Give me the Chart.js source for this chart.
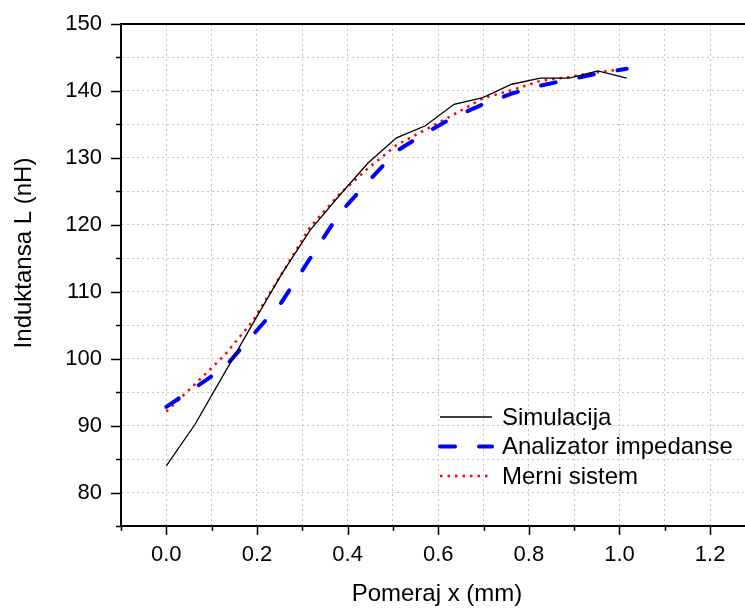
<!DOCTYPE html>
<html>
<head>
<meta charset="utf-8">
<script src="https://cdn.jsdelivr.net/npm/chart.js@4.4.1/dist/chart.umd.min.js"></script>
<style>
  body { margin: 0; background: #fff; }
  #wrap { width: 745px; height: 608px; }
</style>
</head>
<body>
<div id="wrap"><canvas id="chart" width="745" height="608"></canvas></div>
<script>
// pomeraj x (mm)
const pomeraj = [0, 0.0635, 0.127, 0.1905, 0.254, 0.3175, 0.381, 0.4445, 0.508, 0.5715, 0.635, 0.6985, 0.762, 0.8255, 0.889, 0.9525, 1.016];
// induktansa L (nH)
const simulacija = [84.0, 90.2, 97.7, 105.2, 112.6, 119.2, 124.3, 129.2, 133.0, 134.8, 138.0, 139.0, 141.0, 141.9, 141.9, 143.0, 141.9];
const analizator = [92.8, 95.7, 98.6, 103.5, 108.4, 115.0, 121.6, 126.4, 131.0, 133.7, 136.1, 138.0, 139.6, 140.8, 141.7, 142.6, 143.3];
const merniSistem = [92.1, 96.2, 100.4, 105.6, 112.6, 119.7, 124.5, 128.4, 131.9, 134.2, 136.5, 138.9, 140.1, 141.5, 142.1, 142.8, 143.3];

const xTicks = [-0.1, 0, 0.1, 0.2, 0.3, 0.4, 0.5, 0.6, 0.7, 0.8, 0.9, 1.0, 1.1, 1.2];
const xTickLabels = ['', '0.0', '', '0.2', '', '0.4', '', '0.6', '', '0.8', '', '1.0', '', '1.2'];
const yTicks = [75, 80, 85, 90, 95, 100, 105, 110, 115, 120, 125, 130, 135, 140, 145, 150];
const yTickLabels = ['', '80', '', '90', '', '100', '', '110', '', '120', '', '130', '', '140', '', '150'];

const FONT = '"Liberation Sans", Arial, sans-serif';

const toPoints = vals => vals.map((v, i) => ({ x: pomeraj[i], y: v }));

// tick marks, top frame, axis titles and the legend inside the plot
const decorations = {
  id: 'decorations',
  afterDraw(chart) {
    const { ctx, chartArea: a, scales: { x, y } } = chart;
    ctx.save();
    ctx.strokeStyle = '#000';
    ctx.lineWidth = 2;
    ctx.beginPath();
    ctx.moveTo(a.left - 1, a.top);
    ctx.lineTo(a.right, a.top);
    ctx.stroke();

    ctx.lineWidth = 1.5;
    x.ticks.forEach(t => {
      const px = Math.round(x.getPixelForValue(t.value)) + 0.5;
      const len = t.label ? 9 : 5;
      ctx.beginPath();
      ctx.moveTo(px, a.bottom);
      ctx.lineTo(px, a.bottom + len);
      ctx.stroke();
    });
    y.ticks.forEach(t => {
      const py = Math.round(y.getPixelForValue(t.value)) + 0.5;
      const len = t.label ? 10 : 5;
      ctx.beginPath();
      ctx.moveTo(a.left, py);
      ctx.lineTo(a.left - len, py);
      ctx.stroke();
    });

    ctx.fillStyle = '#000';
    ctx.font = '24px ' + FONT;
    ctx.textAlign = 'center';
    ctx.textBaseline = 'middle';
    ctx.fillText('Pomeraj x (mm)', 437, 594);
    ctx.save();
    ctx.translate(24, 253);
    ctx.rotate(-Math.PI / 2);
    ctx.fillText('Induktansa L (nH)', 0, 0);
    ctx.restore();

    // legend
    const rows = [417, 446.5, 476];
    chart.data.datasets.forEach((ds, i) => {
      ctx.save();
      ctx.strokeStyle = ds.borderColor;
      ctx.lineWidth = ds.borderWidth;
      ctx.lineCap = ds.borderCapStyle || 'butt';
      ctx.setLineDash(ds.borderDash || []);
      ctx.beginPath();
      ctx.moveTo(440, rows[i]);
      ctx.lineTo(492, rows[i]);
      ctx.stroke();
      ctx.restore();
      ctx.textAlign = 'left';
      ctx.fillText(ds.label, 502, rows[i] + 1);
    });
    ctx.restore();
  }
};

new Chart(document.getElementById('chart'), {
  type: 'line',
  data: {
    datasets: [
      {
        label: 'Simulacija',
        data: toPoints(simulacija),
        borderColor: '#000000',
        borderWidth: 1.3
      },
      {
        label: 'Analizator impedanse',
        data: toPoints(analizator),
        borderColor: '#0000ff',
        borderWidth: 4,
        borderDash: [15, 24],
        borderCapStyle: 'round'
      },
      {
        label: 'Merni sistem',
        data: toPoints(merniSistem),
        borderColor: '#ff0000',
        borderWidth: 2.5,
        borderDash: [2.5, 5]
      }
    ]
  },
  options: {
    responsive: false,
    animation: false,
    layout: { padding: { top: 24, right: 0, left: 0, bottom: 0 } },
    elements: { point: { radius: 0 }, line: { tension: 0, fill: false } },
    plugins: { legend: { display: false }, tooltip: { enabled: false } },
    scales: {
      x: {
        type: 'linear',
        min: -0.1,
        max: 1.277,
        afterBuildTicks: s => { s.ticks = xTicks.map(v => ({ value: v })); },
        afterFit: s => { s.height = 82; s.paddingLeft = 0; s.paddingRight = 0; },
        ticks: {
          autoSkip: false,
          maxRotation: 0,
          padding: 16,
          color: '#000',
          font: { family: FONT, size: 22 },
          callback: (v, i) => xTickLabels[i]
        },
        grid: { color: '#c4c4c4', lineWidth: 1, drawTicks: false },
        border: { display: true, color: '#000', width: 2, dash: [2, 3] }
      },
      y: {
        type: 'linear',
        min: 75,
        max: 150,
        afterBuildTicks: s => { s.ticks = yTicks.map(v => ({ value: v })); },
        afterFit: s => { s.width = 121; s.paddingTop = 0; s.paddingBottom = 0; },
        ticks: {
          autoSkip: false,
          padding: 19,
          color: '#000',
          font: { family: FONT, size: 22 },
          callback: (v, i) => yTickLabels[i]
        },
        grid: { color: '#c4c4c4', lineWidth: 1, drawTicks: false },
        border: { display: true, color: '#000', width: 2, dash: [2, 3] }
      }
    }
  },
  plugins: [decorations]
});
</script>
</body>
</html>
